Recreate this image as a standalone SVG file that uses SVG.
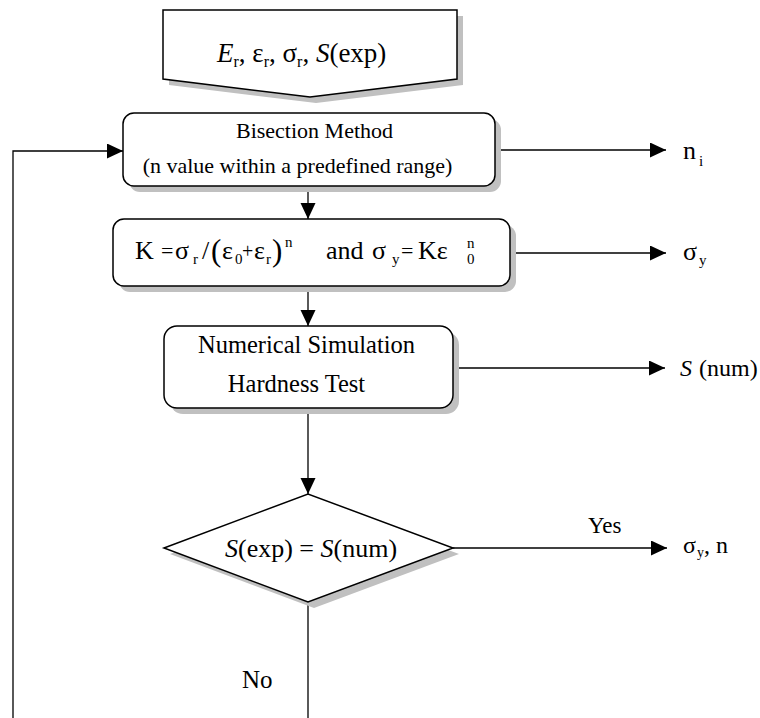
<svg xmlns="http://www.w3.org/2000/svg" width="760" height="718" viewBox="0 0 760 718" font-family="'Liberation Serif', 'Times New Roman', 'DejaVu Serif', serif">
<style>
text{font-family:'Liberation Serif','Times New Roman','DejaVu Serif',serif;fill:#000}
.shape{fill:#fff;stroke:#000;stroke-width:1.5}
.shadow{fill:#c0c0c0;stroke:none}
.line{fill:none;stroke:#000;stroke-width:1.3}
.it{font-style:italic}
</style>
<defs>
<marker id="arr" markerUnits="userSpaceOnUse" markerWidth="17" markerHeight="16" refX="16" refY="7.5" orient="auto">
<path d="M0,0 L16,7.5 L0,15 Z" fill="#000"/>
</marker>
</defs>
<rect width="760" height="718" fill="#fff"/>

<g id="connectors">
<line class="line" x1="308" y1="186" x2="308" y2="219" marker-end="url(#arr)"/>
<line class="line" x1="308" y1="286" x2="308" y2="326" marker-end="url(#arr)"/>
<line class="line" x1="308" y1="408" x2="308" y2="494" marker-end="url(#arr)"/>
<line class="line" x1="495" y1="150" x2="666" y2="150" marker-end="url(#arr)"/>
<line class="line" x1="510" y1="253" x2="666" y2="253" marker-end="url(#arr)"/>
<line class="line" x1="453" y1="368" x2="665" y2="368" marker-end="url(#arr)"/>
<line class="line" x1="453" y1="548" x2="667" y2="548" marker-end="url(#arr)"/>
<line class="line" x1="308" y1="602" x2="308" y2="718"/>
<polyline class="line" points="13,718 13,151 123,151" marker-end="url(#arr)"/>
<text x="588" y="533" font-size="23">Yes</text>
<text x="242" y="688" font-size="25">No</text>
</g>

<g id="input">
<polygon class="shadow" points="169,16 463,16 463,85 316,103 169,85"/>
<polygon class="shape" points="163,10 457,10 457,79 310,97 163,79"/>
<text y="62" font-size="27"><tspan x="217" class="it">E</tspan><tspan font-size="16" dy="5">r</tspan><tspan dy="-5">, ε</tspan><tspan font-size="16" dy="5">r</tspan><tspan dy="-5">, σ</tspan><tspan font-size="16" dy="5">r</tspan><tspan dy="-5">, </tspan><tspan class="it">S</tspan><tspan>(exp)</tspan></text>
</g>

<g id="bisection">
<rect class="shadow" x="129" y="119" width="372" height="73" rx="11"/>
<rect class="shape" x="123" y="113" width="372" height="73" rx="11"/>
<text x="314.5" y="138" font-size="22" text-anchor="middle">Bisection Method</text>
<text x="297.5" y="173" font-size="22" text-anchor="middle">(n value within a predefined range)</text>
</g>

<g id="formula">
<rect class="shadow" x="119" y="225" width="397" height="67" rx="11"/>
<rect class="shape" x="113" y="219" width="397" height="67" rx="11"/>
<text font-size="26"><tspan x="135" y="259">K</tspan><tspan x="161" y="258" font-size="22">=</tspan><tspan x="175" y="259">σ</tspan><tspan x="193" y="264" font-size="15">r</tspan><tspan x="202" y="259">/</tspan><tspan x="211" y="261" font-size="31">(</tspan><tspan x="222" y="259">ε</tspan><tspan x="235" y="264" font-size="15">0</tspan><tspan x="242" y="258" font-size="20">+</tspan><tspan x="254" y="259">ε</tspan><tspan x="266" y="264" font-size="15">r</tspan><tspan x="272" y="261" font-size="31">)</tspan><tspan x="285" y="247" font-size="15">n</tspan><tspan x="326" y="259">and</tspan><tspan x="372" y="259">σ</tspan><tspan x="392" y="264" font-size="15">y</tspan><tspan x="401" y="258" font-size="22">=</tspan><tspan x="418" y="259">Kε</tspan><tspan x="467" y="248" font-size="15">n</tspan><tspan x="467" y="264" font-size="15">0</tspan></text>
</g>

<g id="simulation">
<rect class="shadow" x="170" y="332" width="289" height="82" rx="13"/>
<rect class="shape" x="164" y="326" width="289" height="82" rx="13"/>
<text x="306.5" y="353" font-size="24.5" text-anchor="middle">Numerical Simulation</text>
<text x="296.5" y="392" font-size="24.5" text-anchor="middle">Hardness Test</text>
</g>

<g id="decision">
<polygon class="shadow" points="170,554 314,500 459,554 314,608"/>
<polygon class="shape" points="164,548 308,494 453,548 308,602"/>
<text y="557" font-size="26"><tspan x="225" class="it">S</tspan><tspan>(exp) = </tspan><tspan class="it">S</tspan><tspan>(num)</tspan></text>
</g>

<g id="out-n">
<text font-size="26"><tspan x="683" y="159">n</tspan><tspan x="699" y="166" font-size="15">i</tspan></text>
</g>
<g id="out-sigma">
<text font-size="26"><tspan x="683" y="260">σ</tspan><tspan x="699" y="265" font-size="15">y</tspan></text>
</g>
<g id="out-s">
<text font-size="24" y="376"><tspan x="680" class="it">S</tspan><tspan x="699">(num)</tspan></text>
</g>
<g id="out-result">
<text font-size="24" y="553"><tspan x="683">σ</tspan><tspan x="697" y="557" font-size="14">y</tspan><tspan x="704" y="553">, n</tspan></text>
</g>
</svg>
